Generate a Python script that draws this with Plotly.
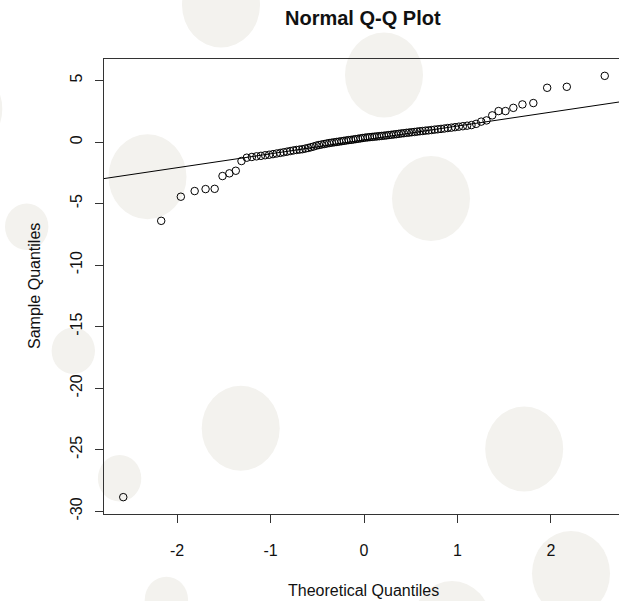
import numpy as np
import plotly.graph_objects as go

# Theoretical normal quantiles for n = 100, upper half (the lower half mirrors it)
theoretical_upper = [0.013, 0.038, 0.063, 0.088, 0.113, 0.138, 0.164, 0.189, 0.215, 0.240,
                     0.266, 0.292, 0.319, 0.345, 0.372, 0.399, 0.426, 0.454, 0.482, 0.510,
                     0.539, 0.568, 0.598, 0.628, 0.659, 0.690, 0.722, 0.755, 0.789, 0.824,
                     0.860, 0.896, 0.935, 0.974, 1.015, 1.058, 1.103, 1.150, 1.200, 1.254,
                     1.311, 1.372, 1.440, 1.514, 1.598, 1.695, 1.812, 1.960, 2.170, 2.576]
theoretical = [-q for q in reversed(theoretical_upper)] + theoretical_upper

# Ordered sample values
sample = [-28.85, -6.40, -4.44, -3.98, -3.82, -3.80, -2.76, -2.54, -2.33, -1.54,
          -1.27, -1.21, -1.16, -1.12, -1.07, -1.03, -0.98, -0.93, -0.88, -0.83,
          -0.78, -0.73, -0.68, -0.64, -0.61, -0.58, -0.53, -0.48, -0.42, -0.36,
          -0.29, -0.24, -0.20, -0.16, -0.12, -0.08, -0.05, -0.02, 0.01, 0.04,
          0.07, 0.10, 0.13, 0.16, 0.18, 0.21, 0.24, 0.27, 0.30, 0.33,
          0.36, 0.38, 0.40, 0.42, 0.44, 0.46, 0.48, 0.50, 0.52, 0.54,
          0.57, 0.59, 0.62, 0.64, 0.67, 0.70, 0.72, 0.75, 0.77, 0.80,
          0.82, 0.85, 0.88, 0.90, 0.93, 0.95, 0.98, 1.01, 1.04, 1.07,
          1.10, 1.14, 1.17, 1.21, 1.25, 1.29, 1.33, 1.38, 1.48, 1.66,
          1.76, 2.17, 2.52, 2.52, 2.78, 3.06, 3.17, 4.41, 4.49, 5.38]

x_ticks = [-2, -1, 0, 1, 2]
y_ticks = [5, 0, -5, -10, -15, -20, -25, -30]

# Figure geometry (pixels)
W, H = 619, 601
ML, MR, MT, MB = 104, 0, 59, 87
PW, PH = W - ML - MR, H - MT - MB

# Axis limits: data range padded by 4% on each side; the right side runs past the page edge
xs = np.array(theoretical)
ys = np.array(sample)
x_pad = 0.04 * (xs.max() - xs.min())
y_pad = 0.04 * (ys.max() - ys.min())
x_lo = xs.min() - x_pad
x_full_hi = xs.max() + x_pad
full_plot_px = 520.0
x_hi = x_lo + (x_full_hi - x_lo) * PW / full_plot_px
y_lo, y_hi = ys.min() - y_pad, ys.max() + y_pad

# Reference line through the first and third quartiles
q1, q3 = np.percentile(ys, [25, 75])
z1, z3 = -0.6744898, 0.6744898
slope = (q3 - q1) / (z3 - z1)
intercept = q1 - slope * z1
line_x = [x_lo, x_hi]
line_y = [intercept + slope * v for v in line_x]

fig = go.Figure()
fig.add_trace(go.Scatter(x=line_x, y=line_y, mode="lines",
                         line=dict(color="black", width=1), hoverinfo="skip",
                         showlegend=False))
fig.add_trace(go.Scatter(x=theoretical, y=sample, mode="markers",
                         marker=dict(symbol="circle-open", size=7.5, color="black",
                                     line=dict(width=1, color="black")),
                         showlegend=False))


def px_to_paper_x(px):
    return (px - ML) / PW


def px_to_paper_y(py):
    return (H - MB - py) / PH


# Pale decorative discs behind the chart: centre x, centre y, radius x, radius y (pixels)
disc_cx = [221, 384, 147.5, 26.7, 73.3, 240.7, 524.2, 431, 119.6, 571, 166.4, 452, -36.7]
disc_cy = [5, 75, 176.7, 226.7, 350.8, 428.3, 449, 198.5, 478.3, 573.4, 600, 623.4, 109]
disc_rx = [39, 39, 39, 21.7, 21.7, 39, 39, 39, 21.7, 39, 21.7, 39, 39]
disc_ry = [42.5, 42.5, 42.5, 23.3, 23.3, 42.5, 42.5, 42.5, 23.3, 42.5, 23.3, 42.5, 42.5]

shapes = []
for cx, cy, rx, ry in zip(disc_cx, disc_cy, disc_rx, disc_ry):
    shapes.append(dict(type="circle", xref="paper", yref="paper", layer="below",
                       x0=px_to_paper_x(cx - rx), x1=px_to_paper_x(cx + rx),
                       y0=px_to_paper_y(cy + ry), y1=px_to_paper_y(cy - ry),
                       fillcolor="#f3f2ee", line=dict(width=0)))

font_family = "Liberation Sans, Arial, Helvetica, sans-serif"
annotations = [
    dict(text="<b>Normal Q-Q Plot</b>", xref="paper", yref="paper",
         x=px_to_paper_x(363), y=px_to_paper_y(18), xanchor="center", yanchor="middle",
         showarrow=False, font=dict(size=20, color="#111", family=font_family)),
    dict(text="Theoretical Quantiles", xref="paper", yref="paper",
         x=px_to_paper_x(363), y=px_to_paper_y(590), xanchor="center", yanchor="middle",
         showarrow=False, font=dict(size=16, color="#111", family=font_family)),
    dict(text="Sample Quantiles", xref="paper", yref="paper", textangle=-90,
         x=px_to_paper_x(34), y=px_to_paper_y(286), xanchor="center", yanchor="middle",
         showarrow=False, font=dict(size=16, color="#111", family=font_family)),
]

axis_common = dict(showgrid=False, zeroline=False, showline=True, linecolor="#333",
                   linewidth=1, ticks="outside", ticklen=8, tickwidth=1, tickcolor="#333",
                   tickfont=dict(size=16, color="#111", family=font_family))

fig.update_layout(
    width=W, height=H,
    margin=dict(l=ML, r=MR, t=MT, b=MB, pad=0),
    paper_bgcolor="white", plot_bgcolor="rgba(0,0,0,0)",
    shapes=shapes, annotations=annotations,
    xaxis=dict(range=[x_lo, x_hi], tickvals=x_ticks, ticktext=[str(v) for v in x_ticks],
               mirror=True, ticklabelstandoff=14, **axis_common),
    yaxis=dict(range=[y_lo, y_hi], tickvals=y_ticks, ticktext=[str(v) for v in y_ticks],
               tickangle=-90, mirror=False, ticklabelstandoff=7, **axis_common),
    font=dict(family=font_family),
)

fig.write_html("out.html")
